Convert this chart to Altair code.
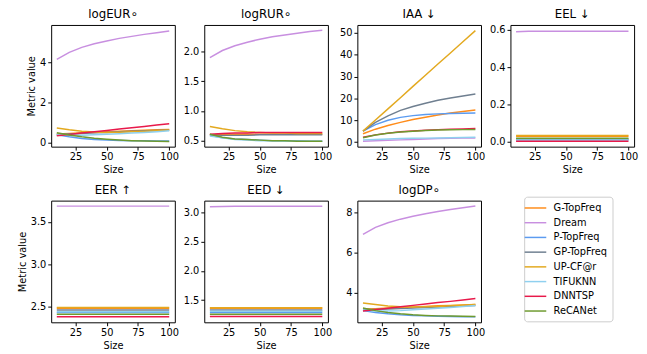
import altair as alt
import pandas as pd

sizes = [10, 20, 30, 40, 50, 60, 70, 80, 90, 100]
methods = ["G-TopFreq", "Dream", "P-TopFreq", "GP-TopFreq", "UP-CF@r", "TIFUKNN", "DNNTSP", "ReCANet"]
colors = ["#ff8c1a", "#c88fe0", "#5b9bf0", "#6f7f90", "#e3a91f", "#8fd0ef", "#e8194a", "#6e9a2e"]

logEUR = {
    "G-TopFreq": [0.42, 0.45, 0.48, 0.50, 0.53, 0.56, 0.59, 0.61, 0.63, 0.65],
    "Dream": [4.15, 4.50, 4.75, 4.93, 5.07, 5.20, 5.30, 5.40, 5.48, 5.57],
    "P-TopFreq": [0.38, 0.28, 0.20, 0.15, 0.12, 0.10, 0.09, 0.08, 0.07, 0.07],
    "GP-TopFreq": [0.40, 0.42, 0.45, 0.48, 0.50, 0.53, 0.56, 0.58, 0.60, 0.62],
    "UP-CF@r": [0.72, 0.63, 0.56, 0.52, 0.50, 0.51, 0.53, 0.56, 0.59, 0.62],
    "TIFUKNN": [0.40, 0.36, 0.36, 0.38, 0.41, 0.44, 0.47, 0.50, 0.54, 0.58],
    "DNNTSP": [0.33, 0.40, 0.47, 0.53, 0.60, 0.67, 0.73, 0.80, 0.87, 0.93],
    "ReCANet": [0.48, 0.37, 0.28, 0.21, 0.16, 0.12, 0.09, 0.07, 0.06, 0.05],
}
logRUR = {
    "G-TopFreq": [0.60, 0.60, 0.61, 0.61, 0.61, 0.61, 0.61, 0.61, 0.61, 0.61],
    "Dream": [1.90, 2.02, 2.10, 2.16, 2.21, 2.25, 2.28, 2.31, 2.34, 2.36],
    "P-TopFreq": [0.59, 0.55, 0.53, 0.52, 0.51, 0.50, 0.50, 0.50, 0.49, 0.49],
    "GP-TopFreq": [0.60, 0.59, 0.59, 0.59, 0.60, 0.60, 0.60, 0.60, 0.60, 0.60],
    "UP-CF@r": [0.74, 0.70, 0.67, 0.65, 0.64, 0.63, 0.63, 0.62, 0.62, 0.62],
    "TIFUKNN": [0.58, 0.55, 0.52, 0.51, 0.50, 0.50, 0.49, 0.49, 0.49, 0.49],
    "DNNTSP": [0.61, 0.62, 0.63, 0.63, 0.64, 0.64, 0.64, 0.64, 0.64, 0.64],
    "ReCANet": [0.61, 0.56, 0.53, 0.52, 0.51, 0.50, 0.50, 0.49, 0.49, 0.49],
}
IAA = {
    "G-TopFreq": [3.8, 5.9, 7.6, 9.0, 10.3, 11.4, 12.4, 13.3, 14.0, 14.7],
    "Dream": [0.4, 0.6, 0.8, 1.0, 1.2, 1.4, 1.6, 1.7, 1.8, 1.9],
    "P-TopFreq": [5.0, 8.0, 10.0, 11.3, 12.1, 12.6, 12.9, 13.1, 13.2, 13.3],
    "GP-TopFreq": [5.0, 9.0, 12.0, 14.5, 16.3, 17.8, 19.1, 20.2, 21.1, 22.0],
    "UP-CF@r": [5.0, 10.1, 15.2, 20.3, 25.5, 30.6, 35.7, 40.8, 45.9, 51.0],
    "TIFUKNN": [1.0, 1.2, 1.4, 1.6, 1.7, 1.8, 1.9, 2.0, 2.1, 2.2],
    "DNNTSP": [2.2, 3.3, 4.1, 4.7, 5.1, 5.4, 5.7, 5.9, 6.0, 6.2],
    "ReCANet": [2.0, 3.2, 4.0, 4.6, 5.0, 5.3, 5.5, 5.6, 5.7, 5.8],
}
EEL = {
    "G-TopFreq": [0.030] * 10,
    "Dream": [0.589, 0.591, 0.592, 0.592, 0.592, 0.592, 0.592, 0.592, 0.592, 0.592],
    "P-TopFreq": [0.012] * 10,
    "GP-TopFreq": [0.016] * 10,
    "UP-CF@r": [0.035] * 10,
    "TIFUKNN": [0.010] * 10,
    "DNNTSP": [0.004] * 10,
    "ReCANet": [0.020] * 10,
}
EER = {
    "G-TopFreq": [2.48] * 10,
    "Dream": [3.685] * 10,
    "P-TopFreq": [2.43] * 10,
    "GP-TopFreq": [2.46] * 10,
    "UP-CF@r": [2.49] * 10,
    "TIFUKNN": [2.44] * 10,
    "DNNTSP": [2.38] * 10,
    "ReCANet": [2.41] * 10,
}
EED = {
    "G-TopFreq": [1.36] * 10,
    "Dream": [3.10, 3.105, 3.11, 3.11, 3.11, 3.11, 3.11, 3.11, 3.11, 3.11],
    "P-TopFreq": [1.29] * 10,
    "GP-TopFreq": [1.33] * 10,
    "UP-CF@r": [1.37] * 10,
    "TIFUKNN": [1.31] * 10,
    "DNNTSP": [1.22] * 10,
    "ReCANet": [1.26] * 10,
}
logDP = {
    "G-TopFreq": [3.20, 3.22, 3.25, 3.28, 3.30, 3.33, 3.36, 3.38, 3.40, 3.42],
    "Dream": [6.90, 7.25, 7.48, 7.66, 7.80, 7.93, 8.04, 8.14, 8.23, 8.31],
    "P-TopFreq": [3.12, 3.03, 2.96, 2.91, 2.88, 2.86, 2.84, 2.83, 2.82, 2.82],
    "GP-TopFreq": [3.18, 3.18, 3.20, 3.22, 3.25, 3.28, 3.30, 3.33, 3.36, 3.38],
    "UP-CF@r": [3.50, 3.42, 3.35, 3.31, 3.30, 3.31, 3.33, 3.36, 3.39, 3.42],
    "TIFUKNN": [3.15, 3.10, 3.10, 3.12, 3.16, 3.20, 3.24, 3.28, 3.32, 3.37],
    "DNNTSP": [3.10, 3.17, 3.24, 3.31, 3.38, 3.45, 3.52, 3.58, 3.65, 3.72],
    "ReCANet": [3.25, 3.12, 3.03, 2.96, 2.91, 2.88, 2.86, 2.85, 2.84, 2.83],
}

panels = [
    ("logEUR∘", logEUR, [-0.21, 5.87], [0, 2, 4], True),
    ("logRUR∘", logRUR, [0.40, 2.45], [0.5, 1.0, 1.5, 2.0], False),
    ("IAA  ↓", IAA, [-2.1, 53.6], [0, 10, 20, 30, 40, 50], False),
    ("EEL ↓", EEL, [-0.025, 0.625], [0.0, 0.2, 0.4, 0.6], False),
    ("EER ↑", EER, [2.315, 3.75], [2.5, 3.0, 3.5], True),
    ("EED ↓", EED, [1.12, 3.205], [1.5, 2.0, 2.5, 3.0], False),
    ("logDP∘", logDP, [2.54, 8.58], [4, 6, 8], False),
]

W, H = 126, 124


def make_panel(title, data, ydom, yticks, show_ytitle):
    rows = []
    for m in methods:
        for s, v in zip(sizes, data[m]):
            rows.append({"Size": s, "value": v, "method": m})
    df = pd.DataFrame(rows)
    yfmt = ".1f" if any(t != int(t) for t in yticks) else "d"
    return alt.Chart(df, title=alt.TitleParams(title)).mark_line(strokeWidth=1.5).encode(
        x=alt.X("Size:Q", scale=alt.Scale(domain=[5.5, 104.5], nice=False, zero=False),
                axis=alt.Axis(values=[25, 50, 75, 100], title="Size")),
        y=alt.Y("value:Q", scale=alt.Scale(domain=ydom, nice=False, zero=False),
                axis=alt.Axis(values=yticks, format=yfmt,
                              title="Metric value" if show_ytitle else None)),
        color=alt.Color("method:N", sort=methods,
                        scale=alt.Scale(domain=methods, range=colors),
                        legend=alt.Legend(title=None)),
        detail="method:N",
    ).properties(width=W, height=H)


charts = [make_panel(*p) for p in panels]
chart = alt.concat(*charts, columns=4, spacing={"row": 55, "column": 30}, bounds="flush").properties(
    padding={"left": 9, "top": -4, "right": 0, "bottom": 0}
).configure(font="DejaVu Sans").configure_view(
    stroke="black", strokeWidth=1
).configure_axis(
    grid=False, domain=False, tickColor="black", tickSize=3.5, labelColor="black",
    labelFontSize=10, titleFontSize=10, titleFontWeight="normal", titleColor="black",
    labelFont="DejaVu Sans", titleFont="DejaVu Sans", labelPadding=2, titlePadding=3
).configure_title(
    fontSize=12, fontWeight="normal", font="DejaVu Sans", color="black", offset=0
).configure_legend(
    orient="none", legendX=482, legendY=175, labelFontSize=10, labelFont="DejaVu Sans",
    symbolType="M-2,0L2,0", symbolStrokeWidth=1.5, symbolSize=121, rowPadding=3,
    labelOffset=12, strokeColor="#cccccc", padding=5, cornerRadius=3, labelColor="black"
)

chart.save("out.html", embed_options={"renderer": "svg", "actions": False})
